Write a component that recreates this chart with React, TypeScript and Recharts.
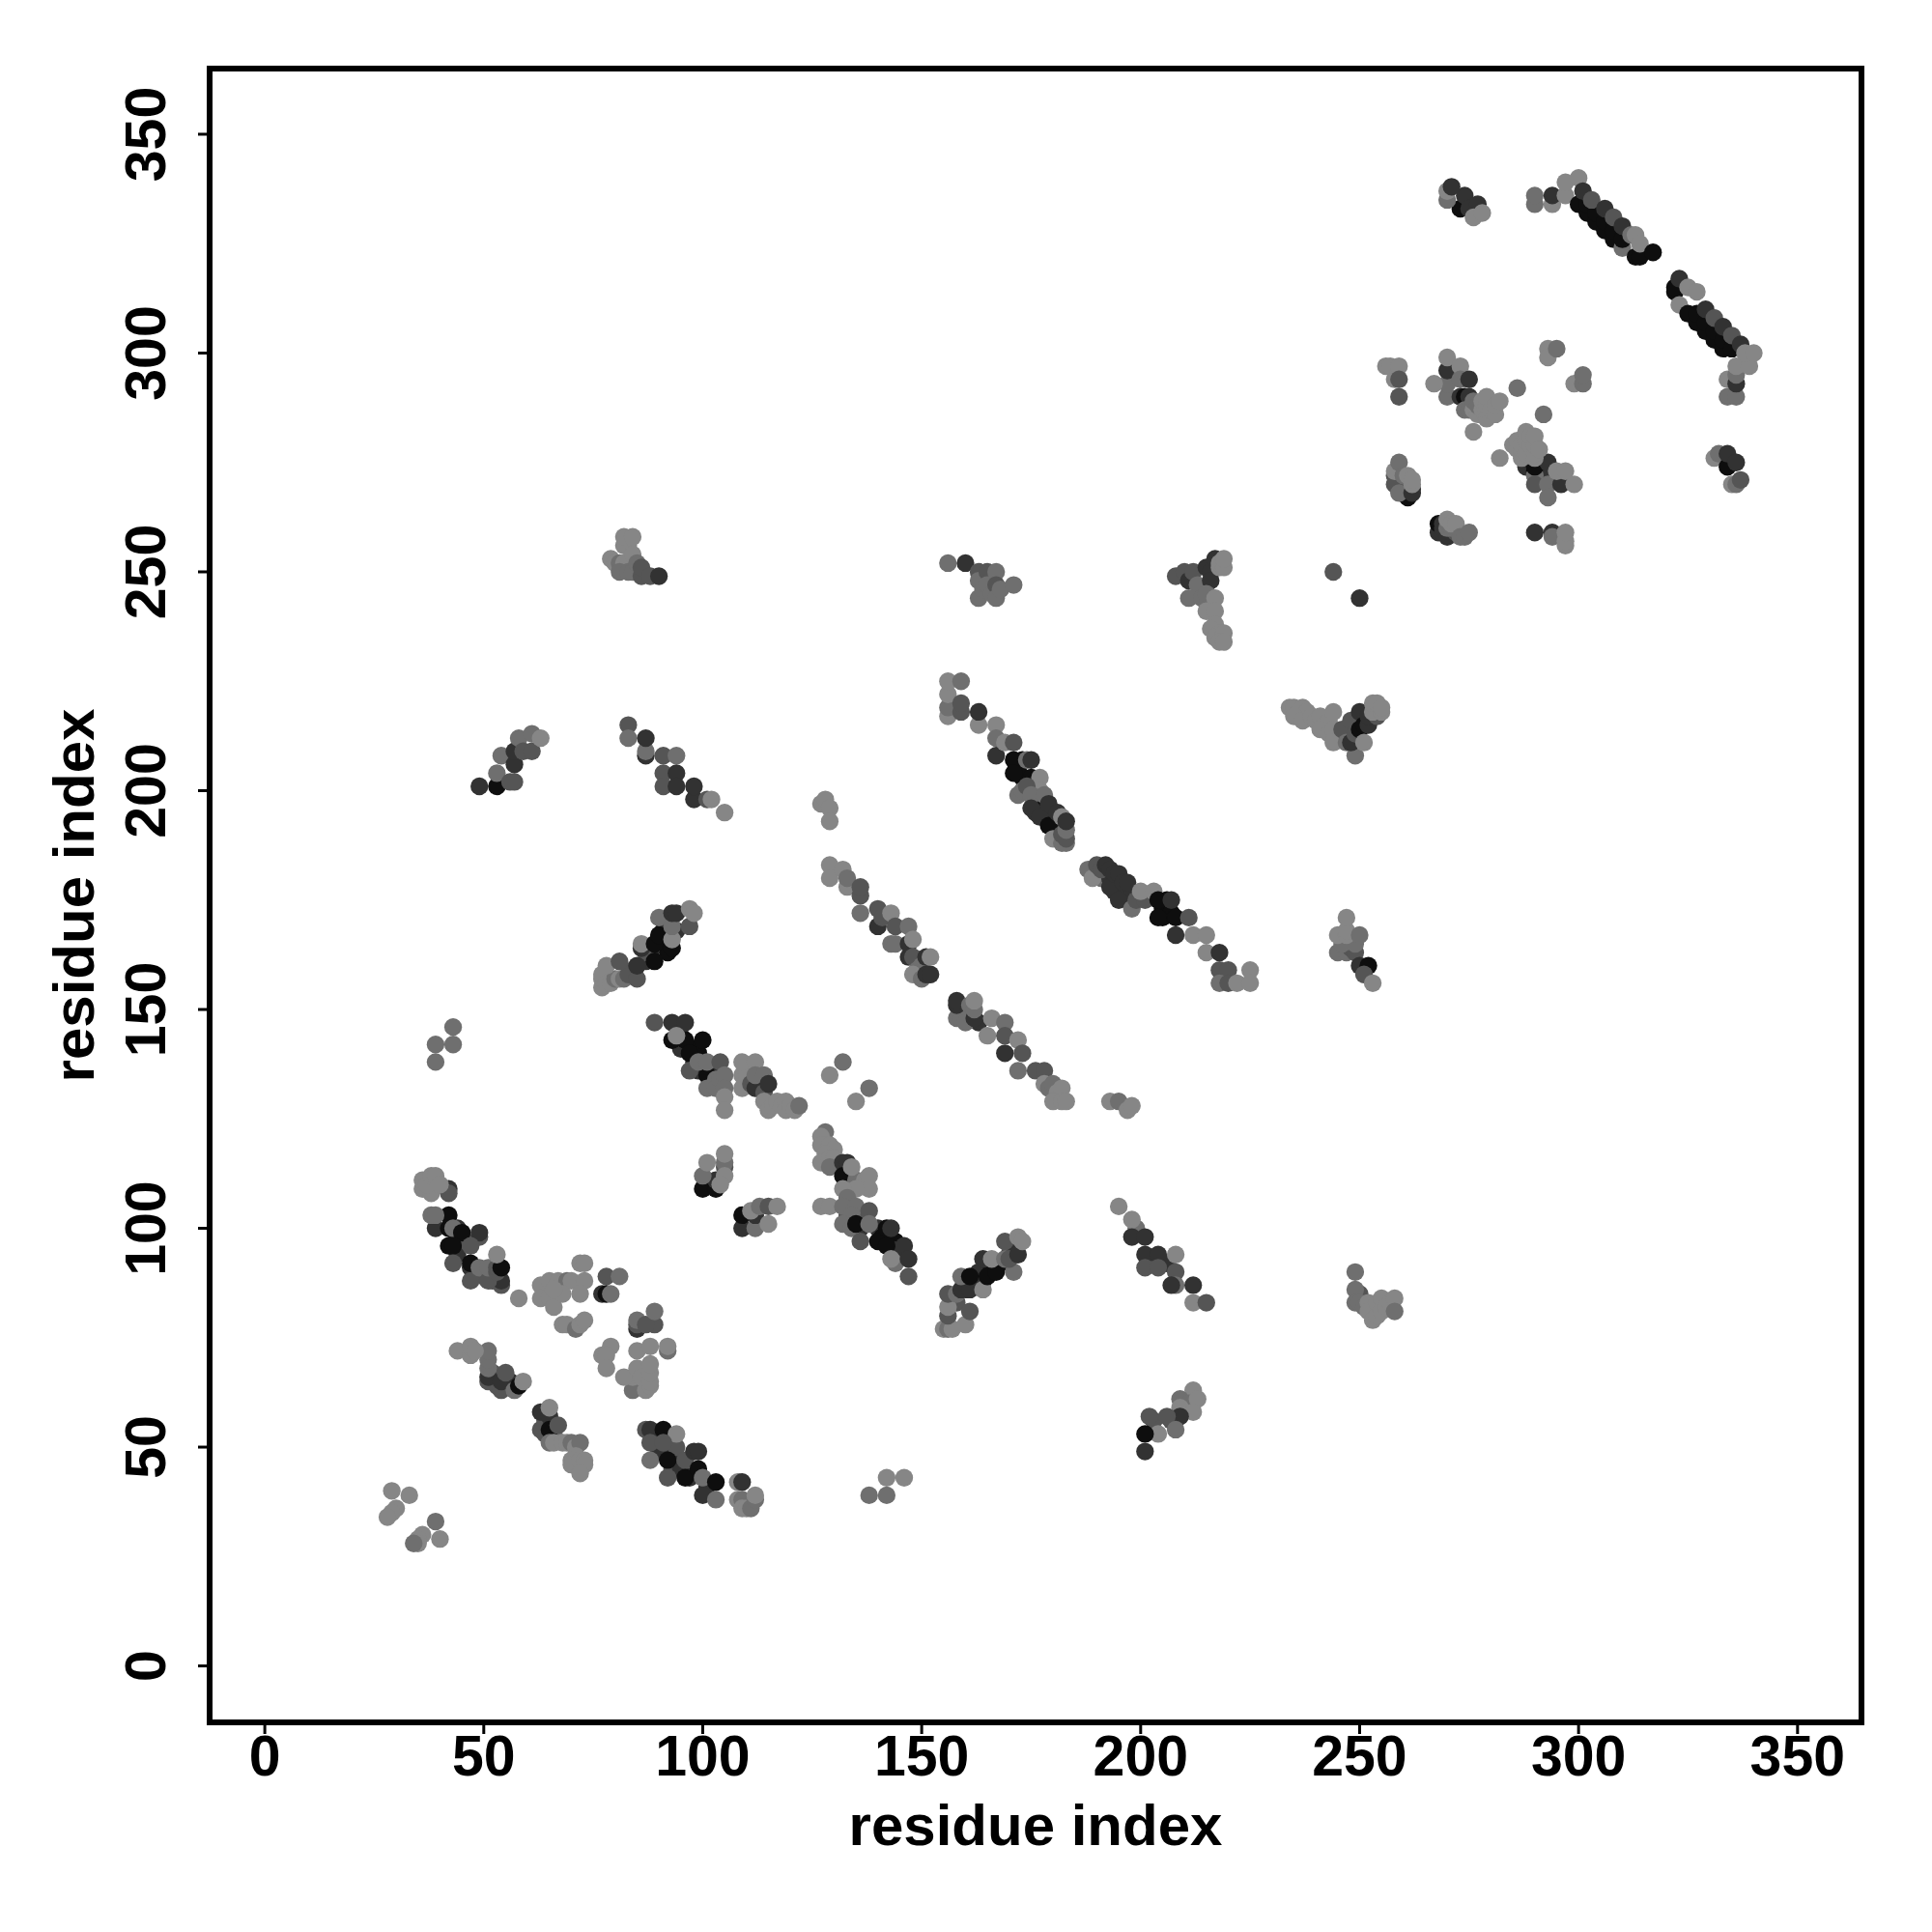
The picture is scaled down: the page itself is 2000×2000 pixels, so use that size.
import React from 'react';
import { ScatterChart, Scatter, XAxis, YAxis, ZAxis, Cell, ReferenceArea } from 'recharts';

// each contact is [residue i, residue j, strength level 0..4], later ones paint on top
const sparse = [
  [29, 40, 0], [33, 39, 0], [30, 36, 0], [29, 35, 0], [28, 34, 0], [39, 33, 1], [40, 29, 0], [36, 30, 0], [35, 29, 0], [35, 28, 0], [34, 28, 1],
  [39, 142, 1], [39, 138, 1], [43, 146, 1], [43, 142, 1],
  [138, 39, 1], [142, 39, 1], [142, 43, 0], [146, 43, 0],
  [129, 135, 0], [132, 138, 1], [135, 129, 0], [138, 132, 1],
  [244, 250, 2], [250, 244, 3],
];
const strandA = [
  [44, 98, 4], [44, 94, 3], [46, 97, 2], [48, 90, 2], [50, 89, 2], [52, 88, 2], [52, 90, 2], [44, 100, 3],
  [42, 109, 3], [38, 109, 3], [36, 109, 0], [38, 108, 0], [42, 108, 2], [36, 111, 0], [37, 110, 0], [38, 112, 0], [39, 112, 0], [40, 110, 0],
  [42, 103, 4], [39, 100, 3], [38, 103, 1], [39, 103, 1], [42, 100, 4], [43, 100, 1], [45, 99, 4], [49, 98, 2], [49, 99, 3],
  [42, 96, 4], [43, 96, 4], [47, 96, 2], [43, 92, 2], [47, 91, 3], [47, 92, 4], [47, 88, 2], [49, 91, 1], [54, 87, 2], [54, 88, 3], [51, 88, 2], [51, 91, 1], [53, 90, 2], [53, 91, 2], [54, 91, 4], [53, 94, 0], [58, 84, 0],
];
const strandB = [
  [63, 87, 0], [65, 88, 0], [67, 88, 0], [69, 88, 1], [70, 88, 0], [73, 88, 0], [63, 84, 0], [65, 84, 0], [66, 82, 0], [68, 85, 0], [72, 85, 0], [66, 86, 0],
  [72, 92, 0], [73, 92, 0], [68, 78, 0], [69, 78, 0], [71, 77, 1], [72, 78, 0], [73, 79, 0],
  [78, 89, 2], [81, 89, 1], [77, 85, 3], [78, 85, 4], [79, 85, 1],
  [85, 77, 3], [85, 78, 2], [85, 79, 1], [89, 78, 2], [87, 78, 2], [89, 81, 1],
  [79, 73, 0], [77, 71, 0], [78, 71, 0], [78, 68, 0],
  [84, 63, 1], [87, 63, 0], [88, 64, 0], [84, 66, 0], [82, 66, 0], [85, 68, 0], [86, 66, 0], [88, 65, 0], [88, 67, 0], [88, 69, 0], [85, 72, 0], [88, 73, 0], [92, 72, 1], [92, 73, 0],
];
const strandC = [
  [52, 67, 2], [53, 65, 2], [53, 64, 2], [56, 65, 3], [64, 56, 2], [64, 53, 2], [66, 53, 1],
  [51, 65, 2], [51, 66, 3], [51, 68, 1], [51, 70, 1], [51, 72, 1], [44, 72, 0], [47, 71, 0], [47, 73, 0], [48, 72, 0],
  [54, 63, 2], [54, 65, 3], [55, 67, 2], [57, 63, 1], [58, 64, 4], [59, 65, 0],
  [63, 58, 3], [63, 54, 2], [65, 57, 3], [65, 54, 4], [65, 59, 0], [67, 55, 2], [65, 51, 1], [66, 51, 0], [68, 51, 0], [69, 51, 0], [70, 51, 1], [71, 50, 0], [72, 51, 1],
  [71, 48, 0], [70, 47, 0], [70, 46, 0], [72, 47, 0], [73, 47, 0], [73, 46, 0], [72, 44, 0],
];
const strandD = [
  [89, 52, 3], [90, 49, 3], [93, 48, 3], [93, 45, 2], [94, 50, 2], [95, 45, 3], [97, 43, 3], [101, 41, 3],
  [87, 54, 2], [88, 54, 3], [91, 54, 4], [94, 53, 0], [88, 51, 2], [91, 51, 2], [88, 47, 1], [92, 47, 4], [92, 43, 2], [96, 47, 2], [98, 49, 3], [99, 49, 3],
  [96, 43, 4], [99, 45, 4], [100, 43, 1], [103, 42, 4], [100, 39, 3], [103, 38, 1],
  [108, 42, 0], [109, 42, 3], [108, 38, 0], [109, 38, 1], [109, 36, 0], [110, 36, 0], [111, 36, 1], [112, 38, 1], [112, 39, 0],
];
const strandE = [
  [100, 109, 4], [103, 109, 4], [103, 111, 3], [100, 112, 1], [105, 114, 2], [105, 115, 1], [105, 112, 0], [104, 110, 0], [101, 115, 0], [105, 117, 0],
  [109, 100, 3], [109, 103, 4], [112, 100, 1], [112, 103, 3], [111, 104, 0], [113, 105, 1], [115, 105, 2], [115, 101, 0], [117, 105, 0],
];
const strandF = [
  [95, 141, 3], [98, 141, 4], [99, 140, 4], [98, 138, 3], [99, 136, 3], [95, 144, 3], [102, 136, 2], [103, 136, 3], [102, 133, 2],
  [93, 143, 4], [96, 143, 4], [97, 140, 4], [100, 143, 4], [89, 147, 2], [93, 147, 3], [96, 147, 3], [94, 144, 0],
  [97, 136, 2], [101, 135, 4], [99, 138, 1], [101, 138, 1], [104, 138, 2], [101, 132, 1], [103, 134, 1], [103, 132, 1], [104, 134, 1], [105, 135, 1], [105, 132, 1], [105, 130, 0], [105, 127, 0],
  [109, 132, 0], [109, 135, 0], [110, 135, 0], [109, 138, 0], [112, 138, 0], [111, 133, 2], [112, 132, 3], [113, 134, 3], [112, 135, 1], [114, 135, 1], [114, 131, 2], [115, 133, 3],
  [114, 129, 0], [115, 127, 0], [116, 128, 0], [117, 129, 0], [118, 128, 0], [119, 129, 0], [119, 127, 0], [120, 128, 0], [121, 127, 0], [122, 128, 1],
];
const strandG = [
  [133, 111, 3], [136, 100, 3], [140, 100, 3], [141, 98, 4], [144, 97, 4], [144, 95, 3], [145, 94, 3], [133, 103, 2], [137, 103, 2],
  [128, 122, 1], [127, 121, 0], [128, 119, 0], [127, 119, 0], [129, 119, 0], [130, 118, 0], [128, 117, 0], [127, 115, 0], [129, 116, 0], [130, 116, 0], [129, 114, 1],
  [132, 115, 3], [133, 115, 3], [132, 112, 4], [135, 111, 1], [134, 114, 0], [137, 111, 0], [138, 112, 0], [138, 109, 0], [135, 109, 0], [132, 109, 0], [133, 107, 1],
  [127, 105, 0], [129, 105, 0], [132, 105, 1], [135, 105, 1], [138, 104, 2], [134, 103, 1], [132, 101, 1], [134, 100, 1], [135, 101, 4], [138, 101, 1], [136, 97, 2], [140, 97, 4],
  [142, 100, 4], [143, 100, 3], [142, 96, 4], [144, 92, 1], [143, 93, 0], [146, 96, 3], [147, 93, 3], [147, 89, 2],
];
const strandH = [
  [158, 83, 2], [160, 86, 3], [160, 88, 4], [162, 88, 4], [163, 89, 4], [163, 90, 3], [164, 88, 3], [166, 91, 4], [168, 92, 4], [170, 94, 3], [171, 95, 3],
  [155, 77, 0], [156, 77, 1], [157, 77, 0], [160, 78, 0], [156, 80, 2], [156, 82, 0], [161, 81, 2], [156, 85, 2], [158, 85, 1],
  [159, 86, 3], [161, 86, 3], [164, 86, 0], [159, 89, 1], [161, 89, 4], [165, 89, 4], [167, 90, 4], [171, 90, 1],
  [164, 93, 3], [166, 93, 0], [169, 93, 1], [170, 93, 2], [172, 94, 3], [169, 97, 2], [172, 98, 0], [173, 97, 0],
];
const strandI = [
  [202, 93, 3], [203, 92, 2], [206, 92, 3], [203, 56, 2], [207, 56, 2],
  [195, 105, 0], [199, 100, 1], [198, 102, 0], [198, 98, 3], [201, 98, 3], [201, 94, 3], [204, 94, 3], [201, 91, 2], [204, 91, 2], [208, 94, 0],
  [208, 90, 2], [208, 87, 1], [207, 87, 3], [212, 87, 3], [212, 83, 0], [215, 83, 2],
  [212, 63, 0], [209, 61, 1], [210, 59, 1], [211, 60, 1], [209, 59, 0], [213, 61, 0], [212, 58, 0], [209, 57, 3], [206, 57, 2], [202, 57, 2], [208, 54, 1], [204, 53, 0], [201, 53, 4], [201, 49, 3],
];
const strandJ = [
  [49, 201, 3], [53, 201, 4], [53, 204, 1], [56, 202, 2], [57, 202, 2], [54, 208, 1], [57, 206, 3], [57, 209, 3], [58, 212, 1], [59, 209, 2], [61, 209, 2], [61, 213, 1], [63, 212, 0],
  [83, 215, 2], [83, 212, 1], [87, 208, 3], [87, 209, 1], [87, 212, 3], [91, 208, 2], [94, 208, 1], [91, 204, 2], [94, 204, 3], [91, 201, 2], [94, 201, 3], [98, 198, 3], [98, 201, 3], [101, 198, 2], [102, 198, 0], [105, 195, 0],
];
const strandK = [
  [84, 159, 2], [87, 161, 3], [88, 163, 3], [87, 163, 2], [91, 166, 4], [91, 168, 4], [92, 165, 4], [92, 163, 4], [92, 170, 3], [94, 168, 3],
  [77, 155, 0], [77, 157, 0], [77, 158, 0], [78, 156, 0], [79, 156, 0], [80, 157, 1], [81, 157, 0], [82, 157, 1], [83, 158, 2], [78, 160, 0], [81, 161, 2], [85, 157, 2], [85, 160, 3], [86, 164, 3], [86, 165, 0],
  [89, 161, 4], [89, 165, 4], [90, 167, 4], [90, 171, 1], [93, 164, 4], [93, 166, 0], [93, 169, 1], [93, 172, 3], [94, 172, 3], [97, 169, 2], [97, 173, 0], [98, 172, 0],
];
const strandL = [
  [127, 197, 0], [128, 198, 0], [129, 196, 0], [129, 193, 0],
  [129, 183, 0], [129, 180, 0], [132, 182, 0], [133, 178, 0], [133, 180, 1], [136, 176, 2], [136, 178, 2], [136, 172, 1], [140, 169, 3], [140, 173, 2], [141, 171, 2], [143, 172, 0], [144, 169, 2], [147, 169, 1],
  [143, 165, 1], [144, 165, 1], [147, 162, 3], [147, 165, 3], [148, 166, 0], [148, 162, 2], [149, 159, 1], [150, 160, 1], [148, 158, 0], [150, 157, 1], [151, 158, 3], [152, 158, 3], [151, 162, 3], [152, 162, 0],
];
const strandM = [
  [160, 149, 3], [163, 147, 3], [159, 150, 2],
  [158, 148, 1], [159, 148, 1], [160, 147, 1], [158, 151, 3], [158, 152, 3], [162, 148, 3], [161, 151, 1], [162, 150, 1], [162, 152, 0], [165, 144, 0], [166, 148, 0], [169, 147, 1], [169, 144, 2], [169, 140, 3], [172, 143, 0], [173, 140, 2],
  [172, 136, 1], [176, 136, 2], [178, 136, 2], [178, 133, 0], [179, 132, 1], [180, 133, 1], [181, 131, 0], [182, 132, 0], [180, 129, 0], [182, 129, 0], [183, 129, 0],
  [193, 129, 0], [195, 129, 1], [197, 127, 0], [198, 128, 0],
];
const strandN = [
  [173, 207, 4], [172, 205, 4], [173, 203, 4], [176, 198, 3], [178, 196, 4], [176, 195, 3], [180, 194, 3], [181, 193, 3], [181, 191, 3],
  [156, 217, 0], [156, 219, 1], [156, 222, 0], [156, 225, 0], [159, 225, 1], [159, 218, 2], [159, 220, 2], [163, 215, 0], [163, 218, 3],
  [167, 215, 0], [167, 212, 1], [167, 208, 3], [169, 211, 0], [171, 211, 2], [171, 207, 4], [171, 204, 4], [174, 207, 1], [175, 207, 3], [175, 203, 4], [177, 203, 0], [177, 200, 0],
  [172, 199, 1], [173, 200, 1], [174, 201, 2], [175, 199, 1], [178, 199, 1], [175, 196, 3], [177, 194, 3], [179, 192, 4], [179, 197, 3], [181, 195, 3], [180, 189, 0], [182, 188, 1], [183, 188, 1], [182, 190, 2], [183, 189, 2], [183, 191, 1], [182, 194, 0], [183, 193, 3],
];
const strandO = [
  [191, 180, 1], [193, 180, 3], [194, 177, 3], [196, 176, 3], [197, 175, 3], [198, 176, 3], [205, 173, 4], [205, 171, 4], [206, 175, 4], [207, 172, 4],
  [188, 182, 1], [189, 180, 0], [190, 183, 2], [191, 182, 2], [192, 183, 3], [193, 182, 3], [193, 178, 3], [194, 181, 3], [195, 175, 3], [195, 181, 3], [196, 179, 3], [197, 179, 3], [198, 173, 1], [199, 175, 2], [201, 175, 2], [200, 177, 0], [203, 177, 0],
  [204, 175, 4], [207, 175, 3], [204, 171, 4], [208, 171, 4], [211, 171, 2], [208, 167, 3], [212, 167, 0], [215, 167, 0], [215, 163, 0], [218, 163, 3],
  [218, 159, 2], [220, 159, 2], [225, 159, 0], [218, 156, 1], [220, 156, 2], [222, 156, 0], [225, 156, 0],
];
const cornerBlobs = [
  [79, 253, 0], [80, 252, 0], [81, 252, 1], [82, 252, 0], [82, 256, 0], [83, 256, 0], [82, 258, 0], [84, 258, 0], [84, 254, 0], [81, 250, 1], [83, 250, 1], [84, 250, 1], [85, 252, 1], [86, 249, 2], [86, 251, 2], [88, 249, 2], [90, 249, 3],
  [156, 252, 1], [160, 252, 3], [163, 250, 2], [163, 248, 1], [163, 244, 1], [164, 246, 1], [165, 250, 2], [165, 247, 1], [166, 245, 1], [167, 250, 1], [167, 247, 2], [167, 244, 1], [168, 246, 1], [171, 247, 1],
  [208, 249, 2], [210, 250, 2], [211, 248, 3], [212, 250, 2], [213, 247, 1], [215, 251, 3], [216, 250, 3], [216, 248, 3], [217, 253, 3], [218, 251, 0], [218, 252, 0], [219, 251, 0], [219, 253, 0],
  [211, 244, 1], [214, 244, 1], [215, 245, 1], [217, 244, 0], [215, 241, 0], [217, 241, 0], [217, 238, 0], [216, 237, 0], [218, 236, 0], [217, 235, 0], [219, 236, 0], [218, 234, 0], [219, 234, 0],
  [245, 163, 1], [247, 163, 1], [248, 164, 2], [249, 163, 2], [246, 165, 1], [249, 165, 1], [245, 167, 0], [247, 167, 0], [247, 168, 0], [247, 171, 0], [250, 167, 1], [250, 160, 3], [252, 160, 4], [251, 158, 2], [253, 156, 0],
  [249, 90, 1], [250, 85, 2], [249, 86, 1], [249, 83, 1], [250, 83, 1], [251, 82, 1], [252, 83, 0], [252, 81, 0], [253, 79, 0], [254, 80, 0], [254, 83, 0], [255, 81, 0], [255, 84, 0], [256, 82, 0], [257, 83, 0], [258, 84, 0], [258, 81, 1],
];
const blobP = [
  [234, 219, 0], [235, 219, 0], [236, 218, 0], [237, 219, 0], [238, 218, 0], [235, 217, 0], [237, 216, 0], [239, 217, 0], [240, 216, 0], [241, 217, 0], [242, 215, 0], [243, 216, 0], [244, 218, 0], [241, 214, 0], [243, 213, 0], [244, 214, 0], [244, 211, 0],
  [246, 214, 2], [247, 211, 1], [249, 208, 1], [248, 211, 3], [248, 216, 2], [249, 213, 2], [250, 214, 4], [250, 218, 3], [251, 215, 4], [252, 215, 3], [252, 217, 3], [251, 211, 0], [254, 217, 2], [253, 218, 0], [255, 218, 0], [253, 220, 0], [254, 220, 0], [255, 219, 0],
];
const blobQ = [
  [256, 297, 0], [257, 297, 0], [259, 297, 0], [258, 294, 0], [259, 294, 2], [259, 290, 2],
  [259, 271, 3], [260, 269, 3], [262, 269, 3], [258, 272, 2], [261, 267, 4], [258, 270, 2], [259, 268, 1], [262, 268, 3], [258, 273, 0], [259, 275, 1], [260, 272, 1], [261, 272, 0], [262, 270, 0], [262, 271, 0],
  [268, 259, 3], [268, 261, 4], [269, 259, 3], [269, 260, 3], [269, 261, 3], [270, 258, 3], [271, 259, 3], [272, 259, 2], [270, 260, 1], [271, 260, 1], [270, 262, 0], [271, 261, 0], [272, 261, 0], [273, 258, 1], [274, 258, 1], [275, 259, 1],
  [270, 290, 1], [270, 293, 1], [270, 296, 3], [270, 299, 0], [267, 293, 0], [273, 297, 0], [273, 294, 1], [275, 294, 3], [273, 290, 3], [274, 290, 4], [275, 290, 3],
  [274, 287, 1], [275, 287, 1], [276, 282, 0], [276, 287, 0], [276, 289, 1], [277, 286, 0], [277, 288, 1], [278, 287, 0], [278, 289, 0], [279, 285, 0], [279, 287, 0], [279, 288, 0], [279, 290, 0], [280, 287, 0], [281, 286, 0], [281, 288, 0], [282, 289, 0], [286, 292, 1],
  [290, 259, 3], [294, 259, 3], [294, 258, 1], [297, 256, 0], [297, 257, 0], [297, 259, 0],
  [292, 286, 1], [293, 301, 0], [293, 299, 0], [295, 301, 1], [299, 293, 0], [301, 293, 1], [301, 295, 1],
];
const blobR = [
  [288, 274, 3], [290, 273, 4], [291, 272, 3], [292, 273, 3],
  [290, 272, 1], [290, 274, 4], [290, 270, 2], [293, 275, 3], [293, 270, 1], [293, 267, 1], [296, 270, 3],
  [282, 276, 0], [285, 279, 0], [286, 278, 0], [286, 280, 0], [287, 276, 0], [287, 278, 0], [287, 279, 0], [288, 277, 0], [288, 280, 0], [288, 282, 0], [289, 279, 0], [289, 281, 0], [290, 276, 0], [290, 277, 0], [290, 279, 0], [290, 281, 0], [291, 278, 0], [295, 273, 0], [297, 273, 0], [299, 270, 0],
];
const helixTop = [
  [273, 333, 4], [274, 336, 3], [270, 335, 1], [270, 337, 0], [271, 338, 3], [275, 333, 3], [277, 334, 3], [276, 331, 0], [278, 332, 0],
  [290, 334, 1], [290, 336, 1], [294, 334, 0], [294, 336, 3], [297, 336, 0], [297, 339, 0], [300, 340, 0],
  [300, 334, 4], [302, 332, 4], [304, 330, 4], [306, 328, 4], [308, 326, 4], [310, 324, 1], [313, 322, 4], [314, 322, 4],
  [302, 334, 4], [304, 332, 4], [306, 330, 4], [308, 328, 4], [310, 326, 4],
  [301, 337, 3], [303, 335, 2], [306, 333, 3], [308, 331, 2], [310, 329, 3], [312, 327, 1], [313, 327, 0], [314, 325, 0], [317, 323, 4],
];
const helixBottom = [
  [322, 314, 4], [322, 315, 4], [323, 317, 3], [323, 311, 0], [325, 309, 4], [327, 307, 4], [329, 305, 4], [331, 303, 4], [333, 301, 4],
  [327, 309, 4], [329, 307, 4], [331, 305, 4], [333, 303, 4], [335, 301, 4],
  [325, 315, 0], [327, 314, 0], [329, 310, 3], [331, 308, 2], [333, 306, 3], [335, 304, 2], [337, 302, 3],
  [334, 290, 1], [336, 290, 1], [334, 294, 0], [336, 293, 3], [336, 295, 1], [336, 297, 0], [339, 297, 0], [338, 300, 0], [340, 300, 0],
  [331, 276, 0], [332, 277, 1], [334, 274, 4], [334, 277, 3], [336, 275, 3], [335, 270, 0], [336, 270, 1], [337, 271, 2],
];
const contactGroups = [
  sparse, strandA, strandB, strandC, strandD, strandE, strandF, strandG, strandH, strandI, strandJ,
  strandK, strandL, strandM, strandN, strandO, cornerBlobs, blobP, blobQ, blobR, helixTop, helixBottom,
];
const levelGrays = ['#868686', '#6f6f6f', '#555555', '#323232', '#0e0e0e'];
const axisTicks = [0, 50, 100, 150, 200, 250, 300, 350];

const FONT = '"Liberation Sans", Arial, sans-serif';
const xDomain: [number, number] = [-12.6, 364.6];
const yDomain: [number, number] = [-12.9, 365];

const BottomTick = ({ x, y, payload }: any) => (
  <text x={x} y={y + 41} textAnchor="middle" fontFamily={FONT} fontWeight="bold" fontSize={59} fill="#000">
    {payload.value}
  </text>
);

const LeftTick = ({ x, y, payload }: any) => (
  <text x={x} y={y} transform={`rotate(-90 ${x} ${y})`} dy={-32} textAnchor="middle" fontFamily={FONT} fontWeight="bold" fontSize={59} fill="#000">
    {payload.value}
  </text>
);

export default function App() {
  return (
    <div style={{ position: 'absolute', left: 0, top: 0, width: 2000, height: 2000, background: '#fff' }}>
      <ScatterChart width={2000} height={2000} margin={{ top: 71, right: 73, bottom: 0, left: 0 }}>
        <XAxis
          type="number"
          dataKey="x"
          domain={xDomain}
          ticks={axisTicks}
          allowDataOverflow
          interval={0}
          height={217}
          tickSize={12}
          axisLine={false}
          tickLine={{ stroke: '#000', strokeWidth: 3 }}
          tick={<BottomTick />}
          label={{ value: 'residue index', position: 'insideBottom', offset: 90, fontFamily: FONT, fontWeight: 'bold', fontSize: 60, fill: '#000' }}
        />
        <YAxis
          type="number"
          dataKey="y"
          domain={yDomain}
          ticks={axisTicks}
          allowDataOverflow
          interval={0}
          width={217}
          tickSize={12}
          axisLine={false}
          tickLine={{ stroke: '#000', strokeWidth: 3 }}
          tick={<LeftTick />}
          label={{ value: 'residue index', angle: -90, position: 'insideLeft', offset: 76, fontFamily: FONT, fontWeight: 'bold', fontSize: 60, fill: '#000', style: { textAnchor: 'middle' } }}
        />
        <ZAxis dataKey="level" range={[264, 264]} />
        {contactGroups.map((group, g) => (
          <Scatter
            key={g}
            data={group.map(([x, y, level]) => ({ x, y, level }))}
            isAnimationActive={false}
            fill={levelGrays[0]}
          >
            {group.map((c, i) => (
              <Cell key={i} fill={levelGrays[c[2]]} />
            ))}
          </Scatter>
        ))}
        <ReferenceArea x1={xDomain[0]} x2={xDomain[1]} y1={yDomain[0]} y2={yDomain[1]} fill="none" stroke="#000" strokeWidth={6} ifOverflow="visible" />
      </ScatterChart>
    </div>
  );
}
